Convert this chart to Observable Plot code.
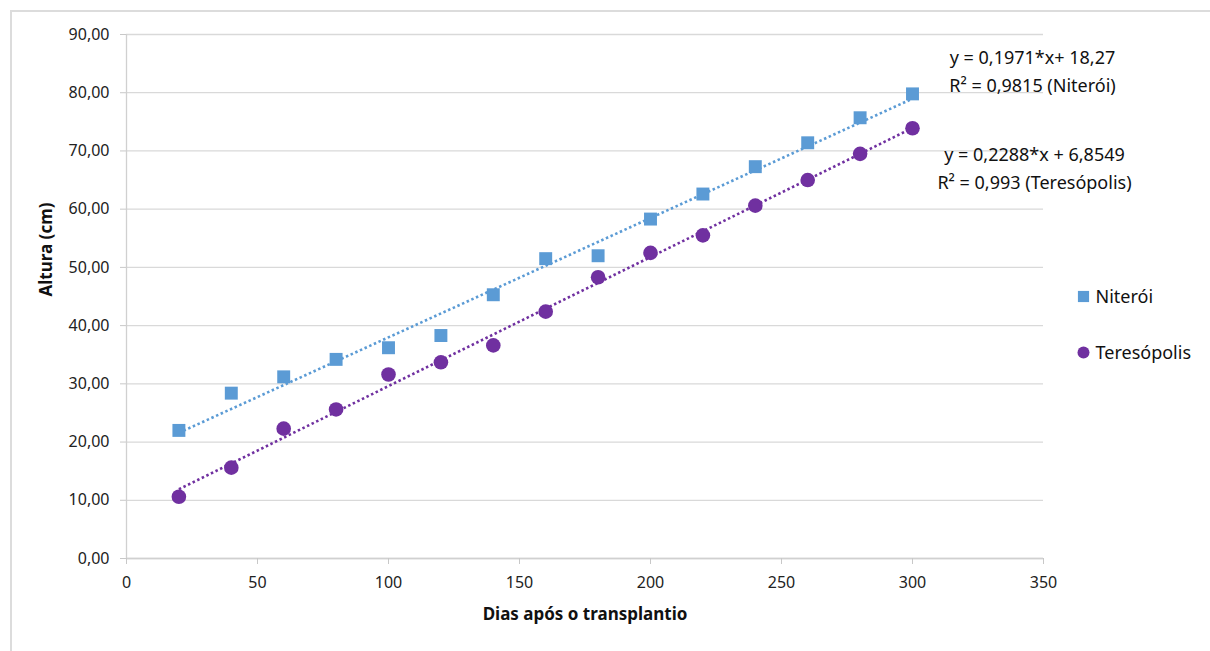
<!DOCTYPE html>
<html>
<head>
<meta charset="utf-8">
<script src="https://cdn.jsdelivr.net/npm/d3@7"></script>
<script src="https://cdn.jsdelivr.net/npm/@observablehq/plot@0.6"></script>
<style>
  body { margin: 0; background: #fff; }
  #wrap { position: relative; width: 1210px; height: 651px; overflow: hidden; }
  #border { position: absolute; left: 10px; top: 10px; width: 1300px; height: 700px; border: 2px solid #dcdcdc; }
  #chart { position: absolute; left: 0; top: 0; }
  g[aria-label="linear-regression"] path { stroke-dasharray: 2.5 2.6; stroke-linecap: butt; }
</style>
</head>
<body>
<div id="wrap"><div id="border"></div><div id="chart"></div></div>
<script>
const days = [20, 40, 60, 80, 100, 120, 140, 160, 180, 200, 220, 240, 260, 280, 300];
const niteroi = [22.0, 28.4, 31.2, 34.2, 36.2, 38.3, 45.3, 51.5, 52.0, 58.3, 62.6, 67.3, 71.4, 75.7, 79.8];
const teresopolis = [10.6, 15.6, 22.3, 25.6, 31.6, 33.7, 36.6, 42.4, 48.3, 52.5, 55.5, 60.6, 65.0, 69.5, 73.9];
const seriesNames = ["Niterói", "Teresópolis"];
const seriesColors = ["#5b9bd5", "#7030a0"];
const seriesSymbols = ["square", "circle"];
const xTicks = [0, 50, 100, 150, 200, 250, 300, 350];
const yTicks = [0, 10, 20, 30, 40, 50, 60, 70, 80, 90];
const eqNiteroi = "y = 0,1971*x+ 18,27\nR² = 0,9815 (Niterói)";
const eqTeresopolis = "y = 0,2288*x + 6,8549\nR² = 0,993 (Teresópolis)";
const xTitle = "Dias após o transplantio";
const yTitle = "Altura (cm)";

const data = [
  ...days.map((d, i) => ({x: d, y: niteroi[i], s: seriesNames[0]})),
  ...days.map((d, i) => ({x: d, y: teresopolis[i], s: seriesNames[1]}))
];
const fmt = d => d.toFixed(2).replace(".", ",");
const font = "'Noto Sans', 'Open Sans', sans-serif";

const chart = Plot.plot({
  width: 1210, height: 651,
  marginLeft: 126, marginRight: 167, marginTop: 34, marginBottom: 93,
  style: {fontFamily: font, fontSize: "16px", color: "#222", background: "transparent", overflow: "visible"},
  x: {domain: [0, 350], label: null},
  y: {domain: [0, 90], label: null},
  color: {domain: seriesNames, range: seriesColors},
  symbol: {domain: seriesNames, range: seriesSymbols},
  marks: [
    Plot.gridY(yTicks, {stroke: "#d9d9d9", strokeOpacity: 1, strokeWidth: 1.3}),
    Plot.ruleX([0], {stroke: "#d0d0d0", strokeWidth: 1.3}),
    Plot.ruleY([0], {stroke: "#d0d0d0", strokeWidth: 1.3}),
    Plot.axisY({ticks: yTicks, tickFormat: fmt, tickSize: 6, tickPadding: 11, stroke: "#c8c8c8", fill: "#222", fontSize: 16, label: null}),
    Plot.axisX({ticks: xTicks, tickSize: 6, tickPadding: 12, stroke: "#c8c8c8", fill: "#222", fontSize: 16, label: null}),
    Plot.text([xTitle], {frameAnchor: "bottom", dy: 61, fontWeight: "bold", fontSize: 17, fill: "#111"}),
    Plot.text([yTitle], {frameAnchor: "left", dx: -80, rotate: -90, fontWeight: "bold", fontSize: 17, fill: "#111"}),
    Plot.linearRegressionY(data, {x: "x", y: "y", stroke: "s", ci: 0, strokeWidth: 2.6, strokeDasharray: "2.5,2.6"}),
    Plot.dot(data, {x: "x", y: "y", fill: "s", symbol: "s", r: 7.3, stroke: "none"}),
    Plot.text([eqNiteroi], {frameAnchor: "top-right", dx: -11, dy: 35, textAnchor: "middle", lineAnchor: "middle", lineHeight: 1.55, fontSize: 18, fill: "#111"}),
    Plot.text([eqTeresopolis], {frameAnchor: "top-right", dx: -9, dy: 132, textAnchor: "middle", lineAnchor: "middle", lineHeight: 1.55, fontSize: 18, fill: "#111"}),
    Plot.dot([seriesNames[0]], {frameAnchor: "right", dx: 40, dy: 0, fill: d => d, symbol: d => d, r: 6.3}),
    Plot.text([seriesNames[0]], {frameAnchor: "right", dx: 52, dy: 1, textAnchor: "start", fontSize: 18, fill: "#111"}),
    Plot.dot([seriesNames[1]], {frameAnchor: "right", dx: 40, dy: 56, fill: d => d, symbol: d => d, r: 6}),
    Plot.text([seriesNames[1]], {frameAnchor: "right", dx: 52, dy: 57, textAnchor: "start", fontSize: 18, fill: "#111"})
  ]
});
d3.select(chart).selectAll('g[aria-label="linear-regression"] path')
  .attr("stroke-dasharray", "2.5,2.6");
document.getElementById("chart").appendChild(chart);
</script>
</body>
</html>
